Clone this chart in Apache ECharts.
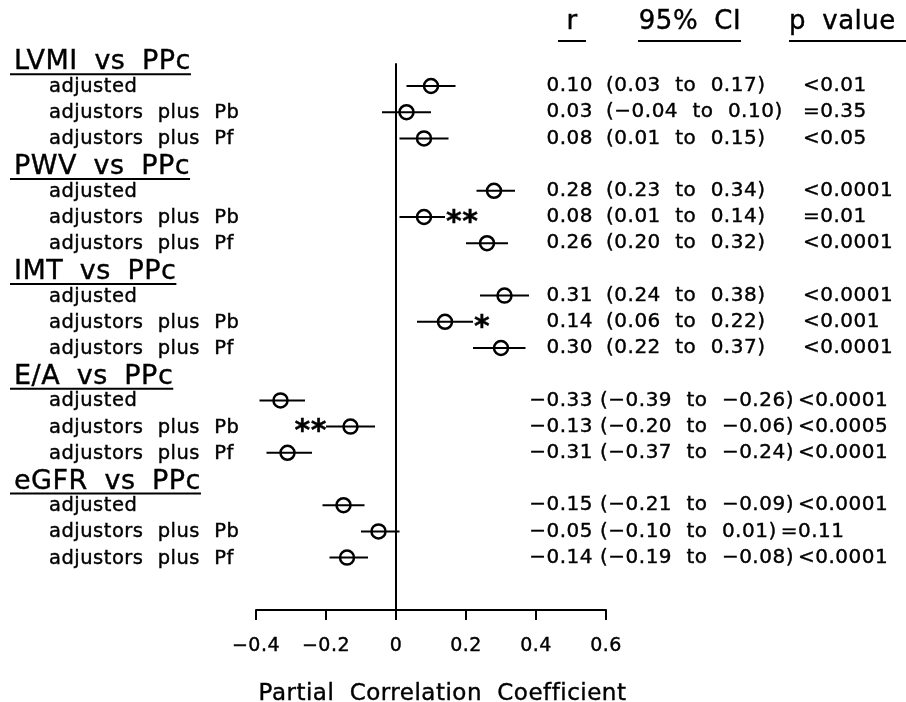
<!DOCTYPE html>
<html>
<head>
<meta charset="utf-8">
<script src="https://cdn.jsdelivr.net/npm/echarts@6/dist/echarts.min.js"></script>
<style>
  html, body { margin: 0; padding: 0; background: #fff; }
  #chart { width: 906px; height: 702px; }
</style>
</head>
<body>
<div id="chart"></div>
<script>
// Forest plot data: partial correlation of each measure with PPc
const groupNames = ['LVMI vs PPc', 'PWV vs PPc', 'IMT vs PPc', 'E/A vs PPc', 'eGFR vs PPc'];
const modelNames = ['adjusted', 'adjustors plus Pb', 'adjustors plus Pf'];
const rValues  = [0.10, 0.03, 0.08, 0.28, 0.08, 0.26, 0.31, 0.14, 0.30, -0.33, -0.13, -0.31, -0.15, -0.05, -0.14];
const ciLower  = [0.03, -0.04, 0.01, 0.23, 0.01, 0.20, 0.24, 0.06, 0.22, -0.39, -0.20, -0.37, -0.21, -0.10, -0.19];
const ciUpper  = [0.17, 0.10, 0.15, 0.34, 0.14, 0.32, 0.38, 0.22, 0.37, -0.26, -0.06, -0.24, -0.09, 0.01, -0.08];
const pValues  = ['<0.01', '=0.35', '<0.05', '<0.0001', '=0.01', '<0.0001', '<0.0001', '<0.001', '<0.0001',
                  '<0.0001', '<0.0005', '<0.0001', '<0.0001', '=0.11', '<0.0001'];
const significance = ['', '', '', '', '**', '', '', '*', '', '', '**', '', '', '', ''];
const columnHeads = ['r', '95% CI', 'p value'];
const xTicks = [-0.4, -0.2, 0, 0.2, 0.4, 0.6];
const axisTitle = 'Partial Correlation Coefficient';

const FONT = "'DejaVu Sans', 'Liberation Sans', Arial, sans-serif";
const LETTER_SPACING = '0.5px';
const WORD_SPACING = '7.5px';
const TEXT_STROKE = 0.4;
const fLabel = '19.5px ' + FONT;
const fNum = '20px ' + FONT;
const fHead = '27px ' + FONT;
const fCol = '26px ' + FONT;
const fStar = 'bold 30px ' + FONT;

// Slightly tracked lettering with wide word gaps, used for drawing and measuring
function applyTracking(ctx) {
  ctx.letterSpacing = LETTER_SPACING;
  ctx.wordSpacing = WORD_SPACING;
}
const measureCtx = document.createElement('canvas').getContext('2d');
function measure(text, font) {
  measureCtx.font = font || '12px sans-serif';
  applyTracking(measureCtx);
  return measureCtx.measureText(text);
}
if (echarts.setPlatformAPI) {
  echarts.setPlatformAPI({ measureText: measure });
}
['fillText', 'strokeText'].forEach(function (method) {
  const orig = CanvasRenderingContext2D.prototype[method];
  CanvasRenderingContext2D.prototype[method] = function () {
    applyTracking(this);
    return orig.apply(this, arguments);
  };
});

const minus = '\u2212';
function fmt(v, digits) {
  if (Math.abs(v) < 1e-9) return '0';
  return (v < 0 ? minus : '') + Math.abs(v).toFixed(digits);
}

// Row layout: each group takes one header slot plus three model slots
const rowData = [];
groupNames.forEach(function (g, gi) {
  modelNames.forEach(function (m, mi) {
    const i = gi * 3 + mi;
    rowData.push([i, gi * 4 + mi, rValues[i], ciLower[i], ciUpper[i]]);
  });
});
const headData = groupNames.map(function (g, gi) { return [gi, gi * 4 - 1]; });

const LABEL_X = 49, HEAD_X = 14, R_RIGHT = 593, CI_X_POS = 606, CI_X_NEG = 600, P_TAB = 803;

function txt(x, y, text, font, align) {
  return {
    type: 'text', x: x, y: y,
    style: { text: text, font: font, fill: '#000', stroke: '#000', lineWidth: TEXT_STROKE,
             textAlign: align || 'left', textVerticalAlign: 'middle',
             align: align || 'left', verticalAlign: 'middle' }
  };
}

function renderRow(params, api) {
  const i = api.value(0);
  const slot = api.value(1);
  const r = api.value(2), lo = api.value(3), hi = api.value(4);
  const pc = api.coord([r, slot]);
  const pl = api.coord([lo, slot]);
  const ph = api.coord([hi, slot]);
  const y = pc[1];
  const children = [
    { type: 'line', shape: { x1: pl[0], y1: y, x2: ph[0], y2: y }, style: { stroke: '#000', lineWidth: 2 } },
    { type: 'circle', shape: { cx: pc[0], cy: y, r: 7 }, style: { fill: 'none', stroke: '#000', lineWidth: 2.5 } },
    txt(LABEL_X, y + 1, modelNames[i % 3], fLabel, 'left')
  ];
  if (significance[i]) {
    if (r >= 0) children.push(txt(ph[0] + 1, y + 6, significance[i], fStar, 'left'));
    else children.push(txt(pl[0] + 1, y + 6, significance[i], fStar, 'right'));
  }
  const ciText = '(' + fmt(lo, 2) + ' to ' + fmt(hi, 2) + ')';
  const ciX = r < 0 ? CI_X_NEG : CI_X_POS;
  const ciEnd = ciX + measure(ciText, fNum).width;
  const pX = r < 0 ? ciEnd + 4 : P_TAB;
  children.push(txt(R_RIGHT, y, fmt(r, 2), fNum, 'right'));
  children.push(txt(ciX, y, ciText, fNum, 'left'));
  children.push(txt(pX, y, pValues[i], fNum, 'left'));
  return { type: 'group', children: children };
}

function renderHead(params, api) {
  const gi = api.value(0);
  const y = api.coord([0, api.value(1)])[1];
  const w = measure(groupNames[gi], fHead).width;
  return {
    type: 'group',
    children: [
      txt(HEAD_X, y + 2.5, groupNames[gi], fHead, 'left'),
      { type: 'line', shape: { x1: 10, y1: y + 14.5, x2: HEAD_X + w, y2: y + 14.5 }, style: { stroke: '#000', lineWidth: 2 } }
    ]
  };
}

// Column headings on the right, each underlined
const colX = [572, 690, 789];
const colAlign = ['center', 'center', 'left'];
const colRule = [[558, 586], [638, 741], [789, 906]];
const graphic = [];
columnHeads.forEach(function (h, k) {
  graphic.push(txt(colX[k], 22, h, fCol, colAlign[k]));
  graphic.push({ type: 'line', shape: { x1: colRule[k][0], y1: 41, x2: colRule[k][1], y2: 41 }, style: { stroke: '#000', lineWidth: 2 } });
});

const chart = echarts.init(document.getElementById('chart'), null, { renderer: 'canvas' });
chart.setOption({
  animation: false,
  backgroundColor: '#fff',
  grid: { left: 256, right: 300, top: 64, bottom: 92, containLabel: false, outerBoundsMode: 'none' },
  xAxis: {
    type: 'value', min: xTicks[0], max: xTicks[xTicks.length - 1], interval: 0.2,
    position: 'bottom',
    axisLine: { show: true, onZero: false, lineStyle: { color: '#000', width: 2 } },
    axisTick: { show: true, inside: false, length: 10, lineStyle: { color: '#000', width: 2 } },
    axisLabel: { color: '#000', fontSize: 19, fontFamily: FONT, margin: 26,
      textBorderColor: '#000', textBorderWidth: TEXT_STROKE,
      formatter: function (v) { return fmt(v, 1); } },
    splitLine: { show: false },
    name: axisTitle, nameLocation: 'middle', nameGap: 72,
    nameTextStyle: { color: '#000', fontSize: 23, fontFamily: FONT, padding: [0, 0, 0, 23],
      textBorderColor: '#000', textBorderWidth: TEXT_STROKE }
  },
  yAxis: {
    type: 'value', inverse: true, min: -0.84, max: 20,
    axisLine: { show: true, onZero: true, lineStyle: { color: '#000', width: 2 } },
    axisTick: { show: false }, axisLabel: { show: false }, splitLine: { show: false }
  },
  graphic: graphic,
  series: [
    { type: 'custom', name: 'groups', data: headData, renderItem: renderHead, clip: false,
      encode: { x: -1, y: 1 }, silent: true },
    { type: 'custom', name: 'rows', data: rowData, renderItem: renderRow, clip: false,
      encode: { x: [2, 3, 4], y: 1 }, silent: true }
  ]
});
</script>
</body>
</html>
